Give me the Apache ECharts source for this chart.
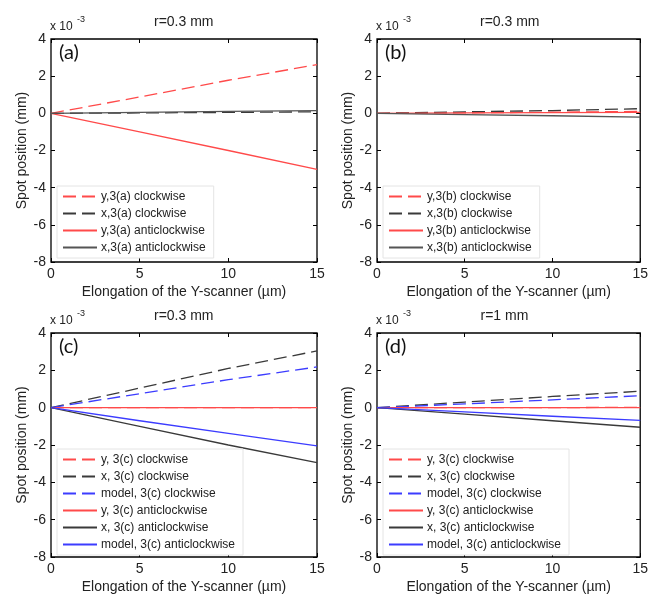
<!DOCTYPE html>
<html>
<head>
<meta charset="utf-8">
<script src="https://cdn.jsdelivr.net/npm/echarts@6/dist/echarts.min.js"></script>
<style>
  html, body { margin: 0; padding: 0; background: #fff; }
  #chart { width: 651px; height: 596px; }
</style>
</head>
<body>
<div id="chart"></div>
<script>
// elongation (µm), values in units of 1e-3 mm
const xs = [0, 5, 10, 15]

const titles = ["r=0.3 mm", "r=0.3 mm", "r=0.3 mm", "r=1 mm"]
const panelLabels = ["(a)", "(b)", "(c)", "(d)"]

// (a)
const namesA = ["y,3(a) clockwise", "x,3(a) clockwise", "y,3(a) anticlockwise", "x,3(a) anticlockwise"]
const yCwA = [0, 0.88, 1.78, 2.62]
const xCwA = [0, 0.02, 0.05, 0.08]
const yAcwA = [0, -1.0, -2.0, -3.02]
const xAcwA = [0, 0.05, 0.1, 0.15]

// (b)
const namesB = ["y,3(b) clockwise", "x,3(b) clockwise", "y,3(b) anticlockwise", "x,3(b) anticlockwise"]
const yCwB = [0, 0.03, 0.06, 0.1]
const xCwB = [0, 0.08, 0.15, 0.25]
const yAcwB = [0, 0.02, 0.04, 0.05]
const xAcwB = [0, -0.07, -0.13, -0.2]

// (c)
const namesC = ["y, 3(c) clockwise", "x, 3(c) clockwise", "model, 3(c) clockwise",
  "y, 3(c) anticlockwise", "x, 3(c) anticlockwise", "model, 3(c) anticlockwise"]
const yCwC = [0, 0, 0, 0]
const xCwC = [0, 1.05, 2.1, 3.04]
const mCwC = [0, 0.75, 1.5, 2.18]
const yAcwC = [0, 0, 0, 0]
const xAcwC = [0, -1.0, -2.0, -2.95]
const mAcwC = [0, -0.7, -1.38, -2.05]

// (d)
const namesD = namesC
const yCwD = [0, 0, 0, 0.02]
const xCwD = [0, 0.3, 0.6, 0.88]
const mCwD = [0, 0.2, 0.42, 0.64]
const yAcwD = [0, 0, 0, 0]
const xAcwD = [0, -0.35, -0.7, -1.05]
const mAcwD = [0, -0.23, -0.46, -0.68]

const RED = "#ff4a4a", DARK = "#3a3a3a", GRAY = "#555555", BLUE = "#3c3cff"
const DASH = [13, 6]

const grids = [
  { left: 51, top: 39, width: 266, height: 223 },
  { left: 377, top: 39, width: 266, height: 223 },
  { left: 51, top: 333, width: 266, height: 224 },
  { left: 377, top: 333, width: 267, height: 224 }
]

const panels = [
  { names: namesA, data: [yCwA, xCwA, yAcwA, xAcwA],
    styles: [[RED, DASH], [DARK, DASH], [RED, "solid"], [GRAY, "solid"]] },
  { names: namesB, data: [yCwB, xCwB, yAcwB, xAcwB],
    styles: [[RED, DASH], [DARK, DASH], [RED, "solid"], [GRAY, "solid"]] },
  { names: namesC, data: [yCwC, xCwC, mCwC, yAcwC, xAcwC, mAcwC],
    styles: [[RED, DASH], [DARK, DASH], [BLUE, DASH], [RED, "solid"], [DARK, "solid"], [BLUE, "solid"]] },
  { names: namesD, data: [yCwD, xCwD, mCwD, yAcwD, xAcwD, mAcwD],
    styles: [[RED, DASH], [DARK, DASH], [BLUE, DASH], [RED, "solid"], [DARK, "solid"], [BLUE, "solid"]] }
]

const FONT = "Liberation Sans"
const tick = { show: true, inside: true, length: 4, lineStyle: { color: "#000" } }
const noLine = { show: false, onZero: false }

const xAxes = [], yAxes = [], series = [], legends = [], graphics = []

grids.forEach((g, i) => {
  const base = { gridIndex: i, type: "value", splitLine: { show: false }, axisLine: noLine, axisTick: tick }
  xAxes.push(Object.assign({}, base, {
    position: "bottom", min: 0, max: 15, interval: 5,
    axisLabel: { fontFamily: FONT, fontSize: 14, color: "#222", margin: 5 },
    name: "Elongation of the Y-scanner (µm)", nameLocation: "middle", nameGap: 23,
    nameTextStyle: { fontFamily: FONT, fontSize: 14, color: "#222" }
  }))
  yAxes.push(Object.assign({}, base, {
    position: "left", min: -8, max: 4, interval: 2,
    axisLabel: { fontFamily: FONT, fontSize: 14, color: "#222", margin: 5 },
    name: "Spot position (mm)", nameLocation: "middle", nameGap: 22,
    nameTextStyle: { fontFamily: FONT, fontSize: 14, color: "#222" }
  }))
})
// ticks on the top and right edges of each box
grids.forEach((g, i) => {
  const base = { gridIndex: i, type: "value", splitLine: { show: false }, axisLine: noLine,
    axisTick: tick, axisLabel: { show: false } }
  xAxes.push(Object.assign({}, base, { position: "top", min: 0, max: 15, interval: 5 }))
  yAxes.push(Object.assign({}, base, { position: "right", min: -8, max: 4, interval: 2 }))
})

panels.forEach((p, i) => {
  p.names.forEach((name, k) => {
    const [color, type] = p.styles[k]
    series.push({
      type: "line", name, xAxisIndex: i, yAxisIndex: i,
      data: xs.map((x, j) => [x, p.data[k][j]]),
      symbol: "none", smooth: false,
      lineStyle: { color, width: 1.3, type },
      itemStyle: { color }
    })
  })
  const g = grids[i]
  legends.push({
    data: p.names, orient: "vertical",
    left: g.left + 6, top: g.top + (i < 2 ? 147 : 116),
    itemWidth: 34, itemHeight: 12, itemGap: 4,
    padding: [4, 8, 4, 5],
    backgroundColor: "#fff", borderColor: "#e4e4e4", borderWidth: 1,
    selectedMode: false,
    // hide the marker the line icon gets by default
    itemStyle: { color: "transparent", borderColor: "transparent", borderWidth: 0, opacity: 0 },
    textStyle: { fontFamily: FONT, fontSize: 12, color: "#222", lineHeight: 13, padding: [0, 0, 0, -1] }
  })
  // title, exponent and panel label
  graphics.push({
    type: "text", left: g.left + g.width / 2 - 30, top: g.top - 24,
    style: { text: titles[i], font: "14px " + FONT, fill: "#222" }
  })
  graphics.push({
    type: "text", left: g.left - 1, top: g.top - 18,
    style: { text: "x 10", font: "12px " + FONT, fill: "#222" }
  })
  graphics.push({
    type: "text", left: g.left + 26, top: g.top - 24,
    style: { text: "-3", font: "9px " + FONT, fill: "#222" }
  })
  graphics.push({
    type: "text", left: g.left + 8, top: g.top + 4,
    style: { text: panelLabels[i], font: "20px Lato", fill: "#111" }
  })
})

const chart = echarts.init(document.getElementById("chart"))
chart.setOption({
  animation: false,
  backgroundColor: "#fff",
  grid: grids.map(g => Object.assign({ show: true, borderColor: "#000", borderWidth: 1.3, backgroundColor: "transparent" }, g)),
  xAxis: xAxes,
  yAxis: yAxes,
  legend: legends,
  graphic: graphics,
  series
})
</script>
</body>
</html>
